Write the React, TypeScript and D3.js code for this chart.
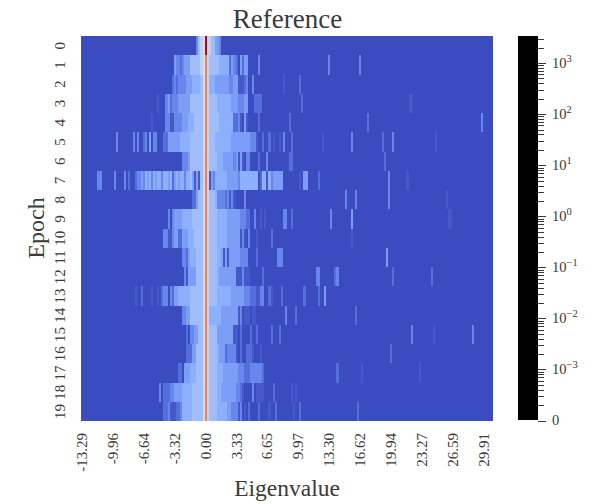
import React, { useRef, useEffect } from 'react';
import * as d3 from 'd3';

// density levels
const A = 2.3e-4, B = 6e-4, C = 1.1e-3, D = 3.2e-3, E = 7.6e-3, F = 0.018, G = 0.06;

const epochs = d3.range(20);
const binCount = 200;
const xTickLabels = ['-13.29', '-9.96', '-6.64', '-3.32', '0.00', '3.33', '6.65', '9.97', '13.30', '16.62', '19.94', '23.27', '26.59', '29.91'];
const peakValues = [3390, 105, 105, 105, 105, 105, 105, 105, 105, 105, 105, 105, 105, 105, 105, 105, 105, 105, 105, 105];
const shoulderValues = [0.9, 0.6, 0.6, 0.6, 0.6, 0.6, 0.9, 0.9, 0.6, 0.6, 0.6, 0.6, 0.9, 0.6, 0.9, 0.6, 0.6, 0.6, 0.9, 0.6];
const cbarExponents = [3, 2, 1, 0, -1, -2, -3];

// each epoch: [first bin, last bin, density]
const epoch0 = [[56,56,C],[57,57,F],[58,58,G],[61,62,G],[63,64,F],[65,66,D],[67,67,C]];
const epoch1 = [[45,45,D],[46,47,C],[48,48,B],[49,49,C],[50,52,D],[53,57,F],[58,58,G],[62,66,F],[67,71,E],[72,72,B],[73,73,D],[74,74,C],[75,75,B],[77,77,D],[78,78,B],[79,80,D],[86,86,C],[120,120,C],[135,135,C]];
const epoch2 = [[44,44,B],[45,45,C],[46,46,B],[47,50,C],[51,53,D],[54,57,E],[58,58,F],[62,64,E],[65,71,D],[72,73,C],[74,75,D],[76,78,A],[79,79,B],[80,80,C],[83,83,C],[98,98,A],[106,106,B]];
const epoch3 = [[37,37,A],[41,41,C],[42,42,D],[43,43,B],[44,46,C],[47,52,D],[53,58,F],[62,65,F],[66,72,E],[73,75,D],[76,78,C],[79,80,D],[84,87,B],[107,107,B],[159,160,A]];
const epoch4 = [[34,34,A],[41,42,C],[43,44,A],[45,48,C],[49,51,D],[52,54,E],[55,58,F],[62,66,F],[67,73,E],[74,75,B],[76,76,C],[77,77,A],[79,79,D],[80,80,A],[86,86,B],[101,101,B],[139,139,B],[194,194,C]];
const epoch5 = [[17,17,C],[25,25,C],[27,27,C],[30,30,B],[31,31,C],[33,33,D],[35,36,C],[40,41,B],[42,47,D],[48,52,E],[53,58,F],[62,64,F],[65,72,E],[73,81,D],[82,84,C],[85,85,A],[88,88,B],[91,91,B],[93,93,A],[96,96,A],[98,98,C],[102,102,B],[117,117,A],[131,131,C],[146,146,B],[151,151,C],[172,172,A]];
const epoch6 = [[49,51,C],[52,52,D],[53,58,F],[62,65,F],[66,68,E],[69,73,D],[74,74,C],[75,75,D],[76,76,A],[77,77,D],[78,78,A],[80,81,C],[86,86,B],[90,90,C],[101,102,B],[147,147,B]];
const epoch7 = [[8,9,C],[16,16,C],[21,21,C],[23,23,B],[26,26,B],[27,28,C],[29,29,D],[30,30,C],[31,31,E],[32,32,D],[33,33,E],[34,34,C],[35,35,E],[36,36,D],[37,38,E],[39,39,C],[40,41,E],[42,42,D],[43,43,E],[44,44,B],[45,45,D],[46,46,E],[47,47,D],[48,48,E],[49,49,E],[50,50,C],[51,51,E],[52,52,E],[53,53,F],[54,54,D],[55,55,A],[56,56,D],[57,57,A],[58,58,F],[62,62,A],[63,63,D],[64,64,C],[65,70,E],[71,75,D],[76,76,C],[77,85,E],[87,87,B],[88,89,E],[90,90,A],[91,91,E],[92,92,C],[93,94,D],[95,97,D],[106,106,A],[108,109,D],[115,115,B],[149,149,C],[158,158,A]];
const epoch8 = [[54,55,B],[56,56,D],[57,58,F],[62,64,F],[65,65,E],[66,69,C],[70,70,B],[71,71,C],[72,72,A],[73,73,C],[74,74,A],[79,79,C],[128,128,C],[133,133,C],[149,149,C],[177,177,A]];
const epoch9 = [[42,42,C],[44,44,C],[45,48,D],[49,53,E],[54,58,F],[62,65,F],[66,70,E],[71,76,D],[77,79,C],[80,81,B],[84,84,C],[87,87,A],[89,89,A],[98,98,C],[99,99,C],[102,102,B],[121,121,C],[131,131,D],[178,179,A]];
const epoch10 = [[40,41,C],[42,43,A],[44,44,C],[45,46,D],[47,48,B],[49,51,D],[52,54,E],[55,58,F],[62,65,F],[66,70,E],[71,76,D],[77,77,A],[78,78,C],[79,79,A],[81,81,C],[85,85,A],[92,92,B],[131,131,A]];
const epoch11 = [[49,50,C],[51,51,B],[52,52,D],[53,55,E],[56,58,F],[62,65,F],[66,67,E],[68,68,D],[69,69,A],[70,70,D],[71,71,A],[72,76,D],[77,80,C],[85,85,B],[95,97,C],[148,148,D]];
const epoch12 = [[50,50,C],[51,51,A],[52,55,D],[56,58,F],[62,65,F],[66,66,E],[67,74,D],[75,77,A],[78,78,C],[79,81,A],[88,88,B],[114,115,C],[123,123,B],[124,124,C],[151,151,B],[170,170,B]];
const epoch13 = [[26,26,A],[29,29,B],[34,34,A],[37,37,A],[39,39,B],[40,41,C],[43,43,C],[44,44,B],[45,46,D],[47,52,E],[53,58,F],[62,65,F],[66,72,E],[73,78,D],[79,81,C],[82,84,B],[85,86,A],[87,88,C],[91,91,B],[92,92,A],[97,97,B],[108,108,B],[115,115,B],[118,118,D]];
const epoch14 = [[49,50,C],[51,52,D],[53,58,F],[62,67,E],[68,75,D],[76,76,A],[77,77,C],[79,81,A],[83,84,A],[99,99,C],[104,104,B],[133,133,B]];
const epoch15 = [[51,51,B],[53,54,C],[55,56,D],[57,58,F],[62,65,F],[66,68,D],[69,73,D],[74,75,A],[77,77,B],[82,82,B],[85,85,B],[92,92,B],[96,96,B],[160,160,C],[171,171,A],[190,190,C]];
const epoch16 = [[51,53,B],[54,55,D],[56,58,F],[62,65,F],[66,66,E],[67,69,D],[70,70,B],[71,74,C],[75,75,A],[77,77,B],[80,82,B],[83,83,A],[87,87,A],[150,150,B]];
const epoch17 = [[47,48,B],[50,52,D],[53,55,E],[56,58,F],[62,65,F],[66,68,E],[69,75,D],[76,78,C],[79,81,B],[82,84,C],[85,87,C],[88,88,B],[124,124,B],[136,136,A],[164,164,A]];
const epoch18 = [[38,38,C],[40,42,B],[43,44,C],[45,48,D],[49,53,E],[54,58,F],[62,65,F],[66,67,E],[68,74,D],[75,76,C],[77,77,B],[78,78,A],[83,83,C],[85,88,A],[93,93,B],[102,102,A],[104,104,A]];
const epoch19 = [[40,41,B],[42,42,C],[43,45,A],[46,47,B],[48,48,C],[49,53,E],[54,58,F],[62,65,F],[66,70,E],[71,72,D],[73,75,C],[76,76,A],[77,77,C],[79,79,A],[81,81,B],[86,86,B],[91,91,A],[94,94,B],[103,103,A],[106,106,B],[134,134,B]];
const epochRows = [epoch0, epoch1, epoch2, epoch3, epoch4, epoch5, epoch6, epoch7, epoch8, epoch9, epoch10, epoch11, epoch12, epoch13, epoch14, epoch15, epoch16, epoch17, epoch18, epoch19];

const vmax = 3390;
const linthresh = 1e-3;
// same shape as matplotlib's SymLogNorm
const symlog = (v: number) => (v <= linthresh ? v / linthresh : 1 + Math.log10(v / linthresh));

// coolwarm stops
const coolwarm = d3.scaleLinear<string>()
  .domain(d3.range(9).map(i => i / 8))
  .range(['#3b4cc0', '#6282ea', '#8db0fe', '#c0d4f5', '#dddcdc', '#f5c4ac', '#f4987a', '#dd5f4b', '#b40426']);

const textColor = '#3a3a3a';
const serif = '"Liberation Serif", serif';

function App() {
  const chartRef = useRef<SVGSVGElement>(null);

  useEffect(() => {
    const svg = d3.select(chartRef.current);
    svg.selectAll('*').remove();

    const left = 81, right = 493, top = 36, bottom = 421;
    const xScale = d3.scaleBand<number>().domain(d3.range(binCount)).range([left, right]);
    const yScale = d3.scaleBand<number>().domain(epochs).range([top, bottom]);
    const norm = d3.scaleLinear().domain([0, symlog(vmax)]).range([0, 1]);
    const colorOf = (v: number) => coolwarm(norm(symlog(v)));

    // background is the zero level
    svg.append('rect')
      .attr('x', left).attr('y', top)
      .attr('width', right - left).attr('height', bottom - top)
      .attr('fill', colorOf(0));

    const cells = epochs.flatMap(e => [
      ...epochRows[e].map(s => ({ e, from: s[0], to: s[1], v: s[2] })),
      { e, from: 59, to: 59, v: shoulderValues[e] },
      { e, from: 60, to: 60, v: peakValues[e] },
      { e, from: 61, to: 61, v: 0.12 },
    ]);

    svg.append('g').attr('shape-rendering', 'crispEdges')
      .selectAll('rect')
      .data(cells)
      .enter()
      .append('rect')
      .attr('x', d => xScale(d.from)!)
      .attr('y', d => yScale(d.e)!)
      .attr('width', d => xScale(d.to)! + xScale.bandwidth() - xScale(d.from)!)
      .attr('height', yScale.bandwidth())
      .attr('fill', d => colorOf(d.v));

    // x tick labels, every 15th bin
    svg.append('g').selectAll('text')
      .data(xTickLabels)
      .enter()
      .append('text')
      .attr('transform', (d, i) => `translate(${xScale(i * 15)! + xScale.bandwidth() / 2 + 5},433) rotate(-90)`)
      .attr('text-anchor', 'end')
      .attr('font-family', serif)
      .attr('font-size', 15)
      .attr('fill', textColor)
      .text(d => d);

    // y tick labels
    svg.append('g').selectAll('text')
      .data(epochs)
      .enter()
      .append('text')
      .attr('transform', d => `translate(65,${yScale(d)! + yScale.bandwidth() / 2}) rotate(-90)`)
      .attr('text-anchor', 'middle')
      .attr('font-family', serif)
      .attr('font-size', 15)
      .attr('fill', textColor)
      .text(d => d);

    svg.append('text')
      .attr('x', 287.5).attr('y', 28)
      .attr('text-anchor', 'middle')
      .attr('font-family', serif).attr('font-size', 27)
      .attr('fill', textColor)
      .text('Reference');

    svg.append('text')
      .attr('x', 287).attr('y', 496)
      .attr('text-anchor', 'middle')
      .attr('font-family', serif).attr('font-size', 23.5)
      .attr('fill', textColor)
      .text('Eigenvalue');

    svg.append('text')
      .attr('transform', 'translate(44,228) rotate(-90)')
      .attr('text-anchor', 'middle')
      .attr('font-family', serif).attr('font-size', 24)
      .attr('fill', textColor)
      .text('Epoch');

    // colorbar
    const cbarX = 518, cbarW = 20;
    const cbarScale = d3.scaleLinear().domain([0, symlog(vmax)]).range([bottom - 0.5, top]);
    svg.append('rect')
      .attr('x', cbarX).attr('y', top)
      .attr('width', cbarW).attr('height', bottom - 1 - top)
      .attr('fill', '#000');

    const minorValues = d3.range(-3, 4).flatMap(k =>
      d3.range(2, 10).map(m => m * Math.pow(10, k - 1) * 1))
      .filter(v => v > 1e-4 && v < vmax)
      .concat([2000, 3000]);
    const cbarG = svg.append('g').attr('stroke', textColor).attr('shape-rendering', 'crispEdges');
    cbarG.selectAll('line.minor')
      .data(minorValues)
      .enter()
      .append('line')
      .attr('class', 'minor')
      .attr('x1', cbarX + cbarW).attr('x2', cbarX + cbarW + 6)
      .attr('y1', d => Math.round(cbarScale(symlogMinor(d))))
      .attr('y2', d => Math.round(cbarScale(symlogMinor(d))));
    cbarG.selectAll('line.major')
      .data([...cbarExponents.map(k => Math.pow(10, k)), 0])
      .enter()
      .append('line')
      .attr('class', 'major')
      .attr('x1', cbarX + cbarW).attr('x2', cbarX + cbarW + 8)
      .attr('y1', d => Math.round(cbarScale(symlog(d))))
      .attr('y2', d => Math.round(cbarScale(symlog(d))));

    const labels = svg.append('g')
      .attr('font-family', serif).attr('font-size', 14.5)
      .attr('fill', textColor);
    cbarExponents.forEach(k => {
      const t = labels.append('text')
        .attr('x', 552)
        .attr('y', cbarScale(symlog(Math.pow(10, k))) + 5);
      t.append('tspan').text('10');
      t.append('tspan').attr('dy', -6).attr('font-size', 10.5).text(String(k).replace('-', '\u2212'));
    });
    labels.append('text')
      .attr('x', 552)
      .attr('y', bottom + 4)
      .text('0');
  }, []);

  return <svg ref={chartRef} width={600} height={504} style={{ position: 'absolute', left: 0, top: 0 }}></svg>;
}

// minor ticks under 1e-3 repeat the log pattern inside the linear part
function symlogMinor(v: number) {
  return v < linthresh ? 1 + Math.log10(v / linthresh) : symlog(v);
}

export default App;
